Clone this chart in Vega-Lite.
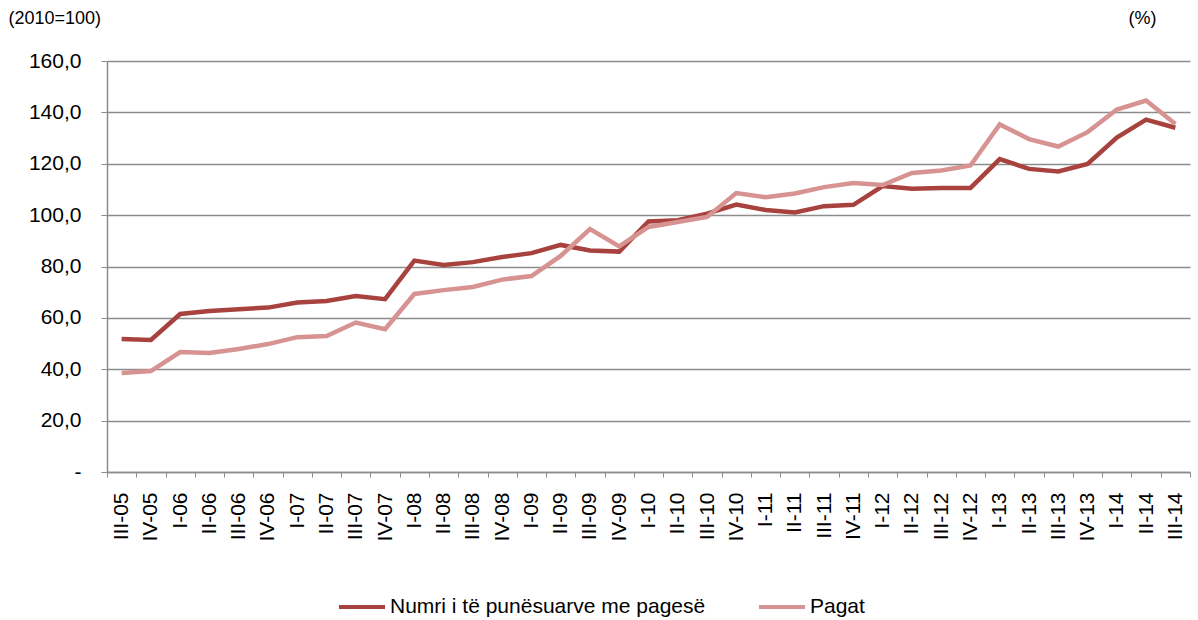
{
  "$schema": "https://vega.github.io/schema/vega-lite/v6.json",
  "width": 1083,
  "height": 411,
  "autosize": {"type": "none"},
  "padding": {"left": 107, "top": 61, "right": 8, "bottom": 148},
  "background": "white",
  "config": {
    "font": "Liberation Sans",
    "view": {"stroke": null}
  },
  "datasets": {
    "d": [
      {"q": "III-05", "s": "Numri i të punësuarve me pagesë", "v": 51.8},
      {"q": "IV-05", "s": "Numri i të punësuarve me pagesë", "v": 51.4},
      {"q": "I-06", "s": "Numri i të punësuarve me pagesë", "v": 61.5},
      {"q": "II-06", "s": "Numri i të punësuarve me pagesë", "v": 62.7},
      {"q": "III-06", "s": "Numri i të punësuarve me pagesë", "v": 63.4},
      {"q": "IV-06", "s": "Numri i të punësuarve me pagesë", "v": 64.0},
      {"q": "I-07", "s": "Numri i të punësuarve me pagesë", "v": 66.0},
      {"q": "II-07", "s": "Numri i të punësuarve me pagesë", "v": 66.6},
      {"q": "III-07", "s": "Numri i të punësuarve me pagesë", "v": 68.5},
      {"q": "IV-07", "s": "Numri i të punësuarve me pagesë", "v": 67.3},
      {"q": "I-08", "s": "Numri i të punësuarve me pagesë", "v": 82.3},
      {"q": "II-08", "s": "Numri i të punësuarve me pagesë", "v": 80.6},
      {"q": "III-08", "s": "Numri i të punësuarve me pagesë", "v": 81.7},
      {"q": "IV-08", "s": "Numri i të punësuarve me pagesë", "v": 83.7},
      {"q": "I-09", "s": "Numri i të punësuarve me pagesë", "v": 85.2},
      {"q": "II-09", "s": "Numri i të punësuarve me pagesë", "v": 88.4},
      {"q": "III-09", "s": "Numri i të punësuarve me pagesë", "v": 86.2},
      {"q": "IV-09", "s": "Numri i të punësuarve me pagesë", "v": 85.8},
      {"q": "I-10", "s": "Numri i të punësuarve me pagesë", "v": 97.5},
      {"q": "II-10", "s": "Numri i të punësuarve me pagesë", "v": 98.0},
      {"q": "III-10", "s": "Numri i të punësuarve me pagesë", "v": 100.6},
      {"q": "IV-10", "s": "Numri i të punësuarve me pagesë", "v": 104.1},
      {"q": "I-11", "s": "Numri i të punësuarve me pagesë", "v": 102.0},
      {"q": "II-11", "s": "Numri i të punësuarve me pagesë", "v": 101.0},
      {"q": "III-11", "s": "Numri i të punësuarve me pagesë", "v": 103.5},
      {"q": "IV-11", "s": "Numri i të punësuarve me pagesë", "v": 104.0},
      {"q": "I-12", "s": "Numri i të punësuarve me pagesë", "v": 111.3},
      {"q": "II-12", "s": "Numri i të punësuarve me pagesë", "v": 110.3},
      {"q": "III-12", "s": "Numri i të punësuarve me pagesë", "v": 110.6},
      {"q": "IV-12", "s": "Numri i të punësuarve me pagesë", "v": 110.6},
      {"q": "I-13", "s": "Numri i të punësuarve me pagesë", "v": 121.8},
      {"q": "II-13", "s": "Numri i të punësuarve me pagesë", "v": 118.0},
      {"q": "III-13", "s": "Numri i të punësuarve me pagesë", "v": 117.0},
      {"q": "IV-13", "s": "Numri i të punësuarve me pagesë", "v": 119.9},
      {"q": "I-14", "s": "Numri i të punësuarve me pagesë", "v": 130.2},
      {"q": "II-14", "s": "Numri i të punësuarve me pagesë", "v": 137.2},
      {"q": "III-14", "s": "Numri i të punësuarve me pagesë", "v": 134.0},
      {"q": "III-05", "s": "Pagat", "v": 38.5},
      {"q": "IV-05", "s": "Pagat", "v": 39.3},
      {"q": "I-06", "s": "Pagat", "v": 46.7},
      {"q": "II-06", "s": "Pagat", "v": 46.3},
      {"q": "III-06", "s": "Pagat", "v": 47.9},
      {"q": "IV-06", "s": "Pagat", "v": 49.8},
      {"q": "I-07", "s": "Pagat", "v": 52.5},
      {"q": "II-07", "s": "Pagat", "v": 52.9},
      {"q": "III-07", "s": "Pagat", "v": 58.2},
      {"q": "IV-07", "s": "Pagat", "v": 55.6},
      {"q": "I-08", "s": "Pagat", "v": 69.3},
      {"q": "II-08", "s": "Pagat", "v": 70.8},
      {"q": "III-08", "s": "Pagat", "v": 72.0},
      {"q": "IV-08", "s": "Pagat", "v": 74.9},
      {"q": "I-09", "s": "Pagat", "v": 76.3},
      {"q": "II-09", "s": "Pagat", "v": 84.1},
      {"q": "III-09", "s": "Pagat", "v": 94.6},
      {"q": "IV-09", "s": "Pagat", "v": 87.8},
      {"q": "I-10", "s": "Pagat", "v": 95.4},
      {"q": "II-10", "s": "Pagat", "v": 97.3},
      {"q": "III-10", "s": "Pagat", "v": 99.3},
      {"q": "IV-10", "s": "Pagat", "v": 108.6},
      {"q": "I-11", "s": "Pagat", "v": 107.0},
      {"q": "II-11", "s": "Pagat", "v": 108.4},
      {"q": "III-11", "s": "Pagat", "v": 110.9},
      {"q": "IV-11", "s": "Pagat", "v": 112.5},
      {"q": "I-12", "s": "Pagat", "v": 111.7},
      {"q": "II-12", "s": "Pagat", "v": 116.4},
      {"q": "III-12", "s": "Pagat", "v": 117.4},
      {"q": "IV-12", "s": "Pagat", "v": 119.3},
      {"q": "I-13", "s": "Pagat", "v": 135.3},
      {"q": "II-13", "s": "Pagat", "v": 129.6},
      {"q": "III-13", "s": "Pagat", "v": 126.7},
      {"q": "IV-13", "s": "Pagat", "v": 132.3},
      {"q": "I-14", "s": "Pagat", "v": 141.1},
      {"q": "II-14", "s": "Pagat", "v": 144.6},
      {"q": "III-14", "s": "Pagat", "v": 135.5}
    ]
  },
  "data": {"name": "d"},
  "encoding": {
    "x": {
      "field": "q",
      "type": "ordinal",
      "sort": null,
      "scale": {"paddingInner": 0, "paddingOuter": 0},
      "axis": {
        "title": null,
        "labelAngle": -90,
        "labelFontSize": 21,
        "labelColor": "black",
        "labelPadding": 15,
        "labelLimit": 200,
        "tickBand": "extent",
        "tickSize": 5,
        "tickColor": "#8c8c8c",
        "domainColor": "#8c8c8c",
        "domainWidth": 1.5,
        "grid": false
      }
    }
  },
  "layer": [
    {
      "mark": {"type": "line", "strokeWidth": 4.5},
      "encoding": {
        "y": {
          "field": "v",
          "type": "quantitative",
          "scale": {"domain": [0, 160], "nice": false},
          "axis": {
            "values": [0, 20, 40, 60, 80, 100, 120, 140, 160],
            "labelExpr": "datum.value == 0 ? '-' : replace(format(datum.value, '.1f'), '.', ',')",
            "labelFontSize": 21,
            "labelColor": "black",
            "labelPadding": 20,
            "tickSize": 6,
            "tickColor": "#8c8c8c",
            "domainColor": "#8c8c8c",
            "domainWidth": 1.5,
            "gridColor": "#8c8c8c",
            "gridWidth": 1.5,
            "title": "(2010=100)",
            "titleAngle": 0,
            "titleFontSize": 18,
            "titleFontWeight": "normal",
            "titleColor": "black",
            "titleAlign": "left",
            "titleBaseline": "middle",
            "titleX": -99,
            "titleY": -43
          }
        },
        "color": {
          "field": "s",
          "type": "nominal",
          "sort": null,
          "scale": {"domain": ["Numri i të punësuarve me pagesë", "Pagat"], "range": ["#A8423E", "#D69391"]},
          "legend": {
            "title": null,
            "orient": "none",
            "direction": "horizontal",
            "legendX": 230,
            "legendY": 521,
            "symbolType": "stroke",
            "symbolSize": 2116,
            "symbolStrokeWidth": 4,
            "labelFontSize": 21,
            "labelLimit": 500,
            "labelColor": "black",
            "labelOffset": 3,
            "columnPadding": 45
          }
        }
      }
    },
    {
      "mark": {"type": "line", "opacity": 0},
      "encoding": {
        "y": {
          "field": "v",
          "type": "quantitative",
          "scale": {"domain": [0, 160], "nice": false},
          "axis": {
            "orient": "right",
            "labels": false,
            "ticks": false,
            "domain": false,
            "grid": false,
            "title": "(%)",
            "titleAngle": 0,
            "titleFontSize": 18,
            "titleFontWeight": "normal",
            "titleColor": "black",
            "titleAlign": "left",
            "titleBaseline": "middle",
            "titleX": -62,
            "titleY": -43
          }
        }
      }
    }
  ],
  "resolve": {"scale": {"y": "independent"}}
}
